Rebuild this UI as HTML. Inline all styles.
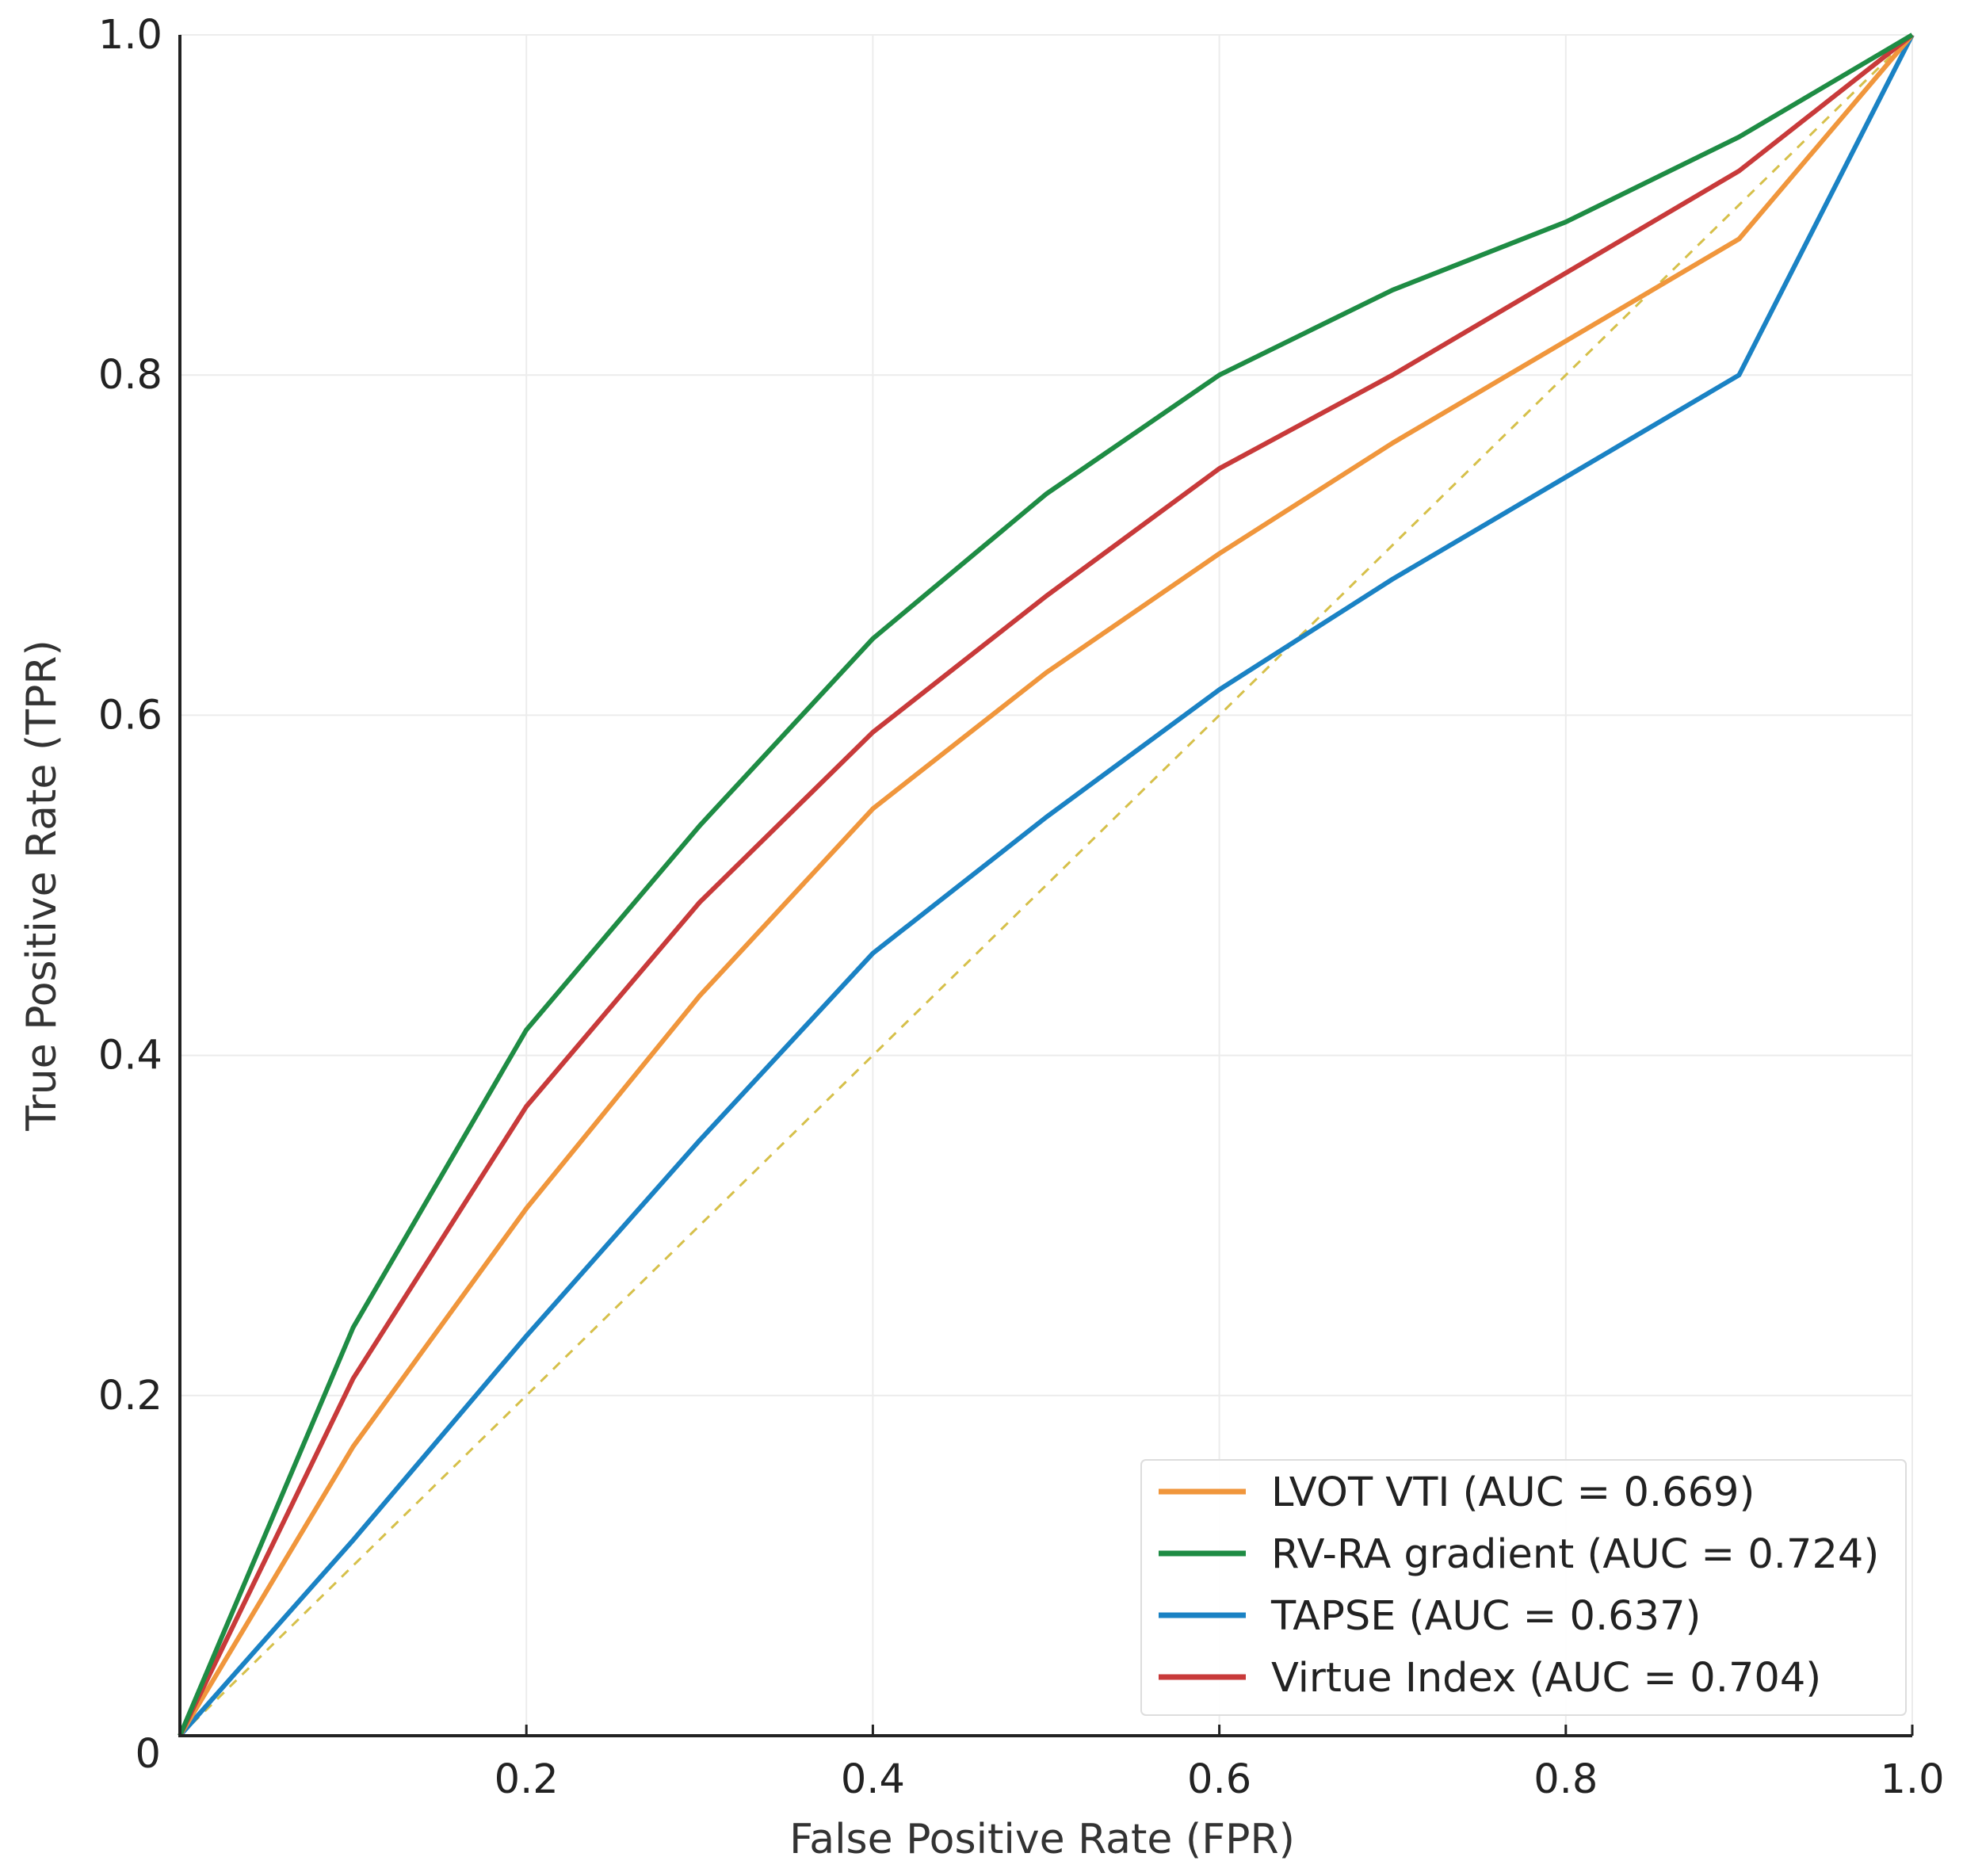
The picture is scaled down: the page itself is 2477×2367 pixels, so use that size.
<!DOCTYPE html>
<html><head><meta charset="utf-8"><style>
html,body{margin:0;padding:0;background:#fff;}
svg{display:block;font-family:"DejaVu Sans","Liberation Sans",sans-serif;}
</style></head><body>
<svg id="chart" width="2477" height="2367" viewBox="0 0 2477 2367" xmlns="http://www.w3.org/2000/svg">
<g id="grid"></g>
<g id="diag"></g>
<g id="series"></g>
<g id="axes"></g>
<g id="legend"></g>
<text x="1315" y="2338" font-size="52" text-anchor="middle" fill="#333">False Positive Rate (FPR)</text>
<text x="0" y="0" font-size="52" text-anchor="middle" fill="#333" transform="translate(70,1117) rotate(-90)">True Positive Rate (TPR)</text>
</svg>
<script>
const fprs = [0,0.1,0.2,0.3,0.4,0.5,0.6,0.7,0.8,0.9,1];
const lvot = [0,0.17,0.31,0.435,0.545,0.625,0.695,0.76,0.82,0.88,1];
const rvra = [0,0.24,0.415,0.535,0.645,0.73,0.80,0.85,0.89,0.94,1];
const tapse = [0,0.115,0.235,0.35,0.46,0.54,0.615,0.68,0.74,0.80,1];
const virtue = [0,0.21,0.37,0.49,0.59,0.67,0.745,0.80,0.86,0.92,1];
const seriesNames = ["LVOT VTI (AUC = 0.669)","RV-RA gradient (AUC = 0.724)","TAPSE (AUC = 0.637)","Virtue Index (AUC = 0.704)"];
const xTicks = [0.2,0.4,0.6,0.8,1.0];
const xTickLabels = ["0.2","0.4","0.6","0.8","1.0"];
const yTicks = [0,0.2,0.4,0.6,0.8,1.0];
const yTickLabels = ["0","0.2","0.4","0.6","0.8","1.0"];

const NS="http://www.w3.org/2000/svg";
const L=227,R=2413,T=44,B=2190;
const xs=v=>L+v*(R-L);
const ys=v=>B-v*(B-T);
function mk(tag,parent,attrs){const e=document.createElementNS(NS,tag);for(const k in attrs)e.setAttribute(k,attrs[k]);parent.appendChild(e);return e;}
const grid=document.getElementById('grid'),axes=document.getElementById('axes'),ser=document.getElementById('series'),leg=document.getElementById('legend'),diag=document.getElementById('diag');

xTicks.forEach((t,i)=>{
  const g=mk('line',grid,{x1:xs(t),x2:xs(t),y1:T,y2:B,stroke:'#ececec','stroke-width':2});
  
  
  const tk=mk('line',axes,{x1:xs(t),x2:xs(t),y1:B,y2:B-14,stroke:'#222','stroke-width':3});
  
  
  const lb=mk('text',axes,{x:xs(t),y:B+72,'font-size':51,'text-anchor':'middle',fill:'#222'});
  lb.textContent=xTickLabels[i];
  
  
});
yTicks.forEach((t,i)=>{
  if(t>0){const g=mk('line',grid,{x1:L,x2:R,y1:ys(t),y2:ys(t),stroke:'#ececec','stroke-width':2});
  
  }
  const lb=mk('text',axes,{x:t===0?203:205,y:t===0?ys(t)+40:ys(t)+17,'font-size':51,'text-anchor':'end',fill:'#222'});
  lb.textContent=yTickLabels[i];
  
  
});
const ax=mk('path',axes,{d:`M${L},${T} L${L},${B} L${R},${B}`,fill:'none',stroke:'#222','stroke-width':4});



const dl=mk('line',diag,{x1:xs(0),y1:ys(0),x2:xs(1),y2:ys(1),stroke:'#d6c04a','stroke-width':3,'stroke-dasharray':'12 10'});



const data=[lvot,rvra,tapse,virtue];
const colors=['#f0963c','#1e8c44','#1a82c4','#c83a3a'];
const names=['lvot-vti-line','rv-ra-gradient-line','tapse-line','virtue-index-line'];
const order=[2,0,3,1];
order.forEach(i=>{
  const d=fprs.map((f,j)=>(j?'L':'M')+xs(f).toFixed(1)+','+ys(data[i][j]).toFixed(1)).join(' ');
  const p=mk('path',ser,{d:d,fill:'none',stroke:colors[i],'stroke-width':6,'stroke-linejoin':'round'});
  
  
});

const box=mk('rect',leg,{x:1440,y:1842,width:965,height:322,rx:6,fill:'#fff','fill-opacity':0.95,stroke:'#ddd','stroke-width':2});


const rowsY=[1882,1960,2038,2116];
seriesNames.forEach((n,i)=>{
  const ln=mk('line',leg,{x1:1462,x2:1572,y1:rowsY[i],y2:rowsY[i],stroke:colors[i],'stroke-width':7});
  
  
  const tx=mk('text',leg,{x:1604,y:rowsY[i]+18,'font-size':51,fill:'#222'});
  tx.textContent=n;
  
  
});
</script>
</body></html>
